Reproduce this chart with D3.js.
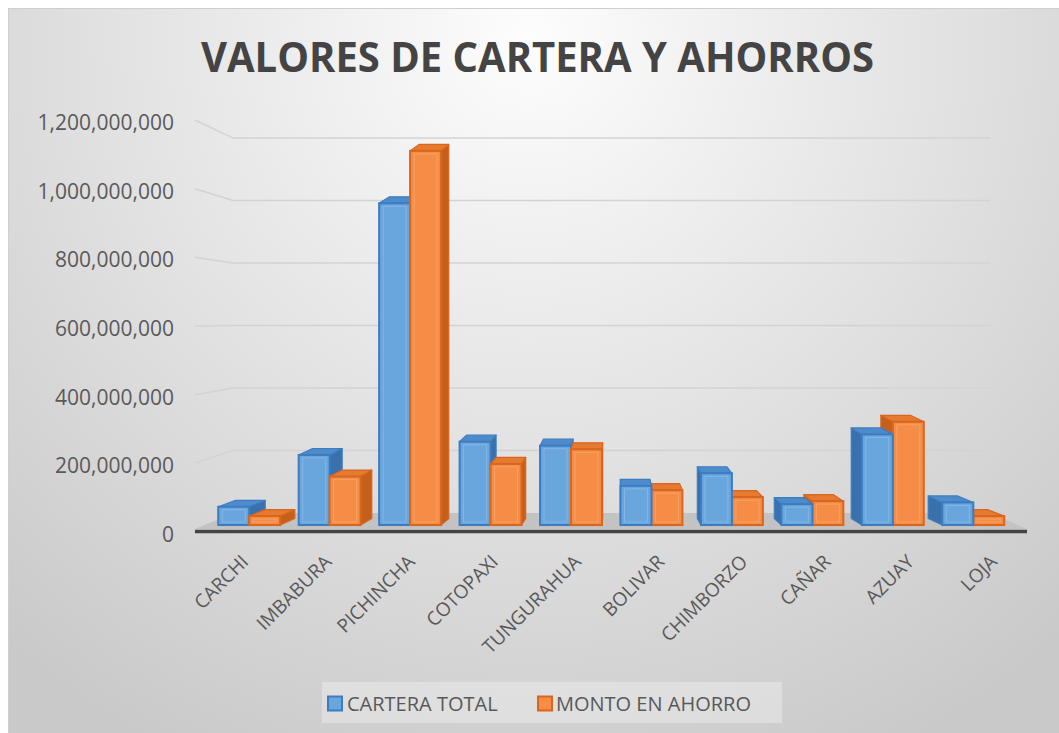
<!DOCTYPE html>
<html>
<head>
<meta charset="utf-8">
<script src="https://cdn.jsdelivr.net/npm/d3@7"></script>
<style>
  html, body { margin: 0; padding: 0; background: #ffffff; }
  svg { display: block; }
</style>
</head>
<body>
<svg id="chart" width="1059" height="733"></svg>
<script>
// ---------- DATA ----------
const categories = ["CARCHI", "IMBABURA", "PICHINCHA", "COTOPAXI", "TUNGURAHUA", "BOLIVAR", "CHIMBORZO", "CAÑAR", "AZUAY", "LOJA"];
const seriesNames = ["CARTERA TOTAL", "MONTO EN AHORRO"];
const carteraTotal = [55e6, 211e6, 969e6, 251e6, 239e6, 118e6, 156e6, 63e6, 273e6, 68e6];
const montoAhorro  = [27e6, 146e6, 1127e6, 184e6, 228e6, 105e6, 84e6, 72e6, 311e6, 27e6];
const yTicks = [0, 200e6, 400e6, 600e6, 800e6, 1000e6, 1200e6];
const title = "VALORES DE CARTERA Y AHORROS";

// ---------- STYLE ----------
const palette = {
  "CARTERA TOTAL":   { front: "#6aa6de", stroke: "#3c7dc2", top: "#4d8bcb", side: "#3a70ab" },
  "MONTO EN AHORRO": { front: "#f58d47", stroke: "#d8661d", top: "#e57a30", side: "#c4601c" }
};

const svg = d3.select("#chart");
const W = 1059, H = 733;

// background
const defs = svg.append("defs");
const rg = defs.append("radialGradient").attr("id", "bg")
  .attr("gradientUnits", "userSpaceOnUse")
  .attr("cx", 530).attr("cy", 40).attr("r", 800);
rg.append("stop").attr("offset", 0).attr("stop-color", "#fdfdfd");
rg.append("stop").attr("offset", 1).attr("stop-color", "#c9c9c9");

svg.append("rect").attr("x", 8.5).attr("y", 8.5).attr("width", W).attr("height", H)
  .attr("fill", "url(#bg)").attr("stroke", "#cfcfcf").attr("stroke-width", 1);

// ---------- PROJECTION ----------
const vx = 618, vy = 321;        // vanishing point
const sWall = 0.91;              // back wall depth factor
const sFront = 0.967, sBack = 0.925; // bar front/back depth factors
const topLift = 6.5;             // vertical offset for bar back edges
function project(X, Y, s) { return [vx + (X - vx) * s, vy + (Y - vy) * s]; }

// ---------- SCALES ----------
const x = d3.scaleBand().domain(categories).range([195, 1027]).paddingInner(0.23).paddingOuter(0.115);
const xs = d3.scaleBand().domain(seriesNames).range([0, x.bandwidth()]);
const y = d3.scaleLinear().domain([0, 1200e6]).range([532, 120]);

// ---------- GRIDLINES (left wall + back wall) ----------
const grid = svg.append("g");
yTicks.filter(t => t > 0).forEach(t => {
  const p0 = project(195, y(t), 1);
  const p1 = project(195, y(t), sWall);
  const p2 = project(1027, y(t), sWall);
  grid.append("path")
    .attr("d", d3.line()([p0, p1, p2]))
    .attr("fill", "none").attr("stroke", "#d3d3d3").attr("stroke-width", 1.5);
});

// floor
const fl = [project(195, 532, sWall), project(1027, 532, sWall), [1027, 529], [195, 529]];
svg.append("path").attr("d", d3.line()(fl) + "Z").attr("fill", "#c3c3c3");
svg.append("line").attr("x1", 195).attr("x2", 1027).attr("y1", 531.5).attr("y2", 531.5)
  .attr("stroke", "#444").attr("stroke-width", 3.5);

// ---------- Y TICK LABELS ----------
const fmt = d3.format(",");
svg.append("g").selectAll("text").data(yTicks).join("text")
  .attr("x", 174).attr("y", d => y(d) + 2)
  .attr("text-anchor", "end").attr("dominant-baseline", "central")
  .attr("font-family", "Open Sans, sans-serif").attr("font-size", 21)
  .attr("fill", "#595959")
  .text(d => fmt(d));

// ---------- BARS ----------
const bars = [];
categories.forEach((c, i) => {
  bars.push({ cat: c, ser: seriesNames[0], v: carteraTotal[i] });
  bars.push({ cat: c, ser: seriesNames[1], v: montoAhorro[i] });
});
bars.forEach(b => {
  b.X0 = x(b.cat) + xs(b.ser);
  b.X1 = b.X0 + xs.bandwidth();
  b.cx = (b.X0 + b.X1) / 2;
});
bars.sort((a, b) => Math.abs(b.cx - vx) - Math.abs(a.cx - vx));

const gBars = svg.append("g");
bars.forEach(b => {
  const col = palette[b.ser];
  const Yt = y(b.v), Yb = y(0);
  const fTL = project(b.X0, Yt, sFront), fTR = project(b.X1, Yt, sFront);
  const fBL = project(b.X0, Yb, sFront), fBR = project(b.X1, Yb, sFront);
  const bTL = [project(b.X0, Yt, sBack)[0], fTL[1] - topLift];
  const bTR = [project(b.X1, Yt, sBack)[0], fTR[1] - topLift];
  const bBL = [project(b.X0, Yb, sBack)[0], fBL[1] - topLift];
  const bBR = [project(b.X1, Yb, sBack)[0], fBR[1] - topLift];
  const g = gBars.append("g");
  // side face
  let side;
  if (b.cx < vx) side = [fTR, bTR, bBR, fBR];
  else side = [fTL, bTL, bBL, fBL];
  g.append("path").attr("d", d3.line()(side) + "Z")
    .attr("fill", col.side).attr("stroke", col.stroke).attr("stroke-width", 1.2).attr("stroke-linejoin", "round");
  // top face
  g.append("path").attr("d", d3.line()([fTL, fTR, bTR, bTL]) + "Z")
    .attr("fill", col.top).attr("stroke", col.stroke).attr("stroke-width", 1.2).attr("stroke-linejoin", "round");
  // front face
  g.append("rect").attr("x", fTL[0]).attr("y", fTL[1])
    .attr("width", fTR[0] - fTL[0]).attr("height", fBL[1] - fTL[1])
    .attr("fill", col.front).attr("stroke", col.stroke).attr("stroke-width", 2);
  // inner bevel line
  const h = fBL[1] - fTL[1];
  if (h > 8) {
    g.append("rect").attr("x", fTL[0] + 4).attr("y", fTL[1] + 3)
      .attr("width", fTR[0] - fTL[0] - 8).attr("height", h - 6)
      .attr("fill", "none").attr("stroke", "#ffffff").attr("stroke-opacity", 0.18).attr("stroke-width", 1);
  }
});

// ---------- CATEGORY LABELS ----------
svg.append("g").selectAll("text").data(categories).join("text")
  .attr("transform", d => `translate(${x(d) + x.bandwidth() / 2 + 8},${558}) rotate(-45)`)
  .attr("text-anchor", "end").attr("dominant-baseline", "central")
  .attr("font-family", "Open Sans, sans-serif").attr("font-size", 19)
  .attr("fill", "#595959")
  .text(d => d);

// ---------- TITLE ----------
svg.append("text")
  .attr("x", 537.5).attr("y", 72)
  .attr("text-anchor", "middle")
  .attr("font-family", "Open Sans, sans-serif").attr("font-weight", "bold").attr("font-size", 41)
  .attr("textLength", 673).attr("lengthAdjust", "spacingAndGlyphs")
  .attr("fill", "#444444")
  .text(title);

// ---------- LEGEND ----------
const lg = svg.append("g");
lg.append("rect").attr("x", 322).attr("y", 682).attr("width", 460).attr("height", 41)
  .attr("fill", "#ffffff").attr("fill-opacity", 0.3);
const legendItems = [
  { name: seriesNames[0], sx: 327, tx: 347 },
  { name: seriesNames[1], sx: 537, tx: 556 }
];
legendItems.forEach(it => {
  const col = palette[it.name];
  lg.append("rect").attr("x", it.sx + 1).attr("y", 696.5).attr("width", 14).attr("height", 14)
    .attr("fill", col.front).attr("stroke", col.stroke).attr("stroke-width", 2);
  lg.append("text").attr("x", it.tx).attr("y", 703.5)
    .attr("dominant-baseline", "central")
    .attr("font-family", "Open Sans, sans-serif").attr("font-size", 20)
    .attr("fill", "#595959")
    .text(it.name);
});
</script>
</body>
</html>
